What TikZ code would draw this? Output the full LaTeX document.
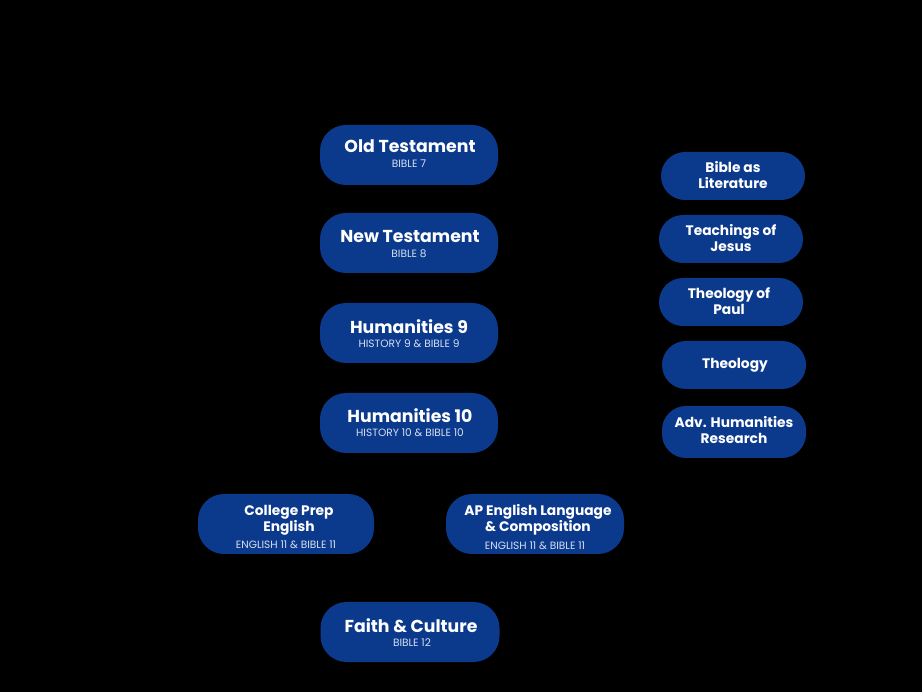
\documentclass[tikz,border=0pt]{standalone}
\usepackage{fontspec}
\setmainfont{Poppins}
\newfontfamily\popb{Poppins}[UprightFont=* Bold]
\definecolor{boxblue}{RGB}{11,57,140}
\definecolor{subtxt}{RGB}{214,224,244}
\tikzset{
  course/.style={fill=boxblue, rounded corners=26pt, minimum width=178pt, minimum height=60pt, inner sep=0pt},
  elect/.style={fill=boxblue, rounded corners=24pt, minimum width=144pt, minimum height=48pt, inner sep=0pt},
  ttl/.style={text=white, font=\popb\fontsize{17.3}{19}\selectfont, inner sep=0pt},
  ttlsm/.style={text=white, font=\popb\fontsize{13.8}{16}\selectfont, align=center, inner sep=0pt},
  sub/.style={text=subtxt, font=\fontsize{10.6}{12}\selectfont, inner sep=0pt}
}
\begin{document}
\begin{tikzpicture}[x=1pt,y=-1pt]
\fill[black] (0,0) rectangle (922,692);
\useasboundingbox (0,0) rectangle (922,692);
% main column
\node[course] (ot) at (409,155) {};
\node[ttl] (otT) at (410,146.5) {Old Testament};
\node[sub] (otS) at (409,163.5) {BIBLE 7};
\node[course] (nt) at (409,243) {};
\node[ttl] (ntT) at (410,236.5) {New Testament};
\node[sub] (ntS) at (409,253.5) {BIBLE 8};
\node[course] (h9) at (409,333) {};
\node[ttl] (h9T) at (409,326.5) {Humanities 9};
\node[sub] (h9S) at (409,343.5) {HISTORY 9 \& BIBLE 9};
\node[course] (h10) at (409,423) {};
\node[ttl] (h10T) at (410,415.5) {Humanities 10};
\node[sub] (h10S) at (410,432.5) {HISTORY 10 \& BIBLE 10};
\node[course, minimum width=176pt] (cp) at (286,524) {};
\node[ttlsm] (cpT) at (289,520) {College Prep\\English};
\node[sub] (cpS) at (286,544.5) {ENGLISH 11 \& BIBLE 11};
\node[course] (ap) at (535,524) {};
\node[ttlsm] (apT) at (538,520) {AP English Language\\\& Composition};
\node[sub] (apS) at (535,545.5) {ENGLISH 11 \& BIBLE 11};
\node[course, minimum width=179pt] (fc) at (410,632) {};
\node[ttl] (fcT) at (411,625.5) {Faith \& Culture};
\node[sub] (fcS) at (412,642.5) {BIBLE 12};
% electives
\node[elect] (bl) at (733,176) {};
\node[ttlsm] (blT) at (733,175) {Bible as\\Literature};
\node[elect] (tj) at (731,239) {};
\node[ttlsm] (tjT) at (731,238) {Teachings of\\Jesus};
\node[elect] (tp) at (731,302) {};
\node[ttlsm] (tpT) at (729,301) {Theology of\\Paul};
\node[elect] (th) at (734,365) {};
\node[ttlsm] (thT) at (735,365.5) {Theology};
\node[elect, minimum height=52pt] (ah) at (734,432) {};
\node[ttlsm] (ahT) at (734,430) {Adv. Humanities\\Research};
\end{tikzpicture}
\end{document}
